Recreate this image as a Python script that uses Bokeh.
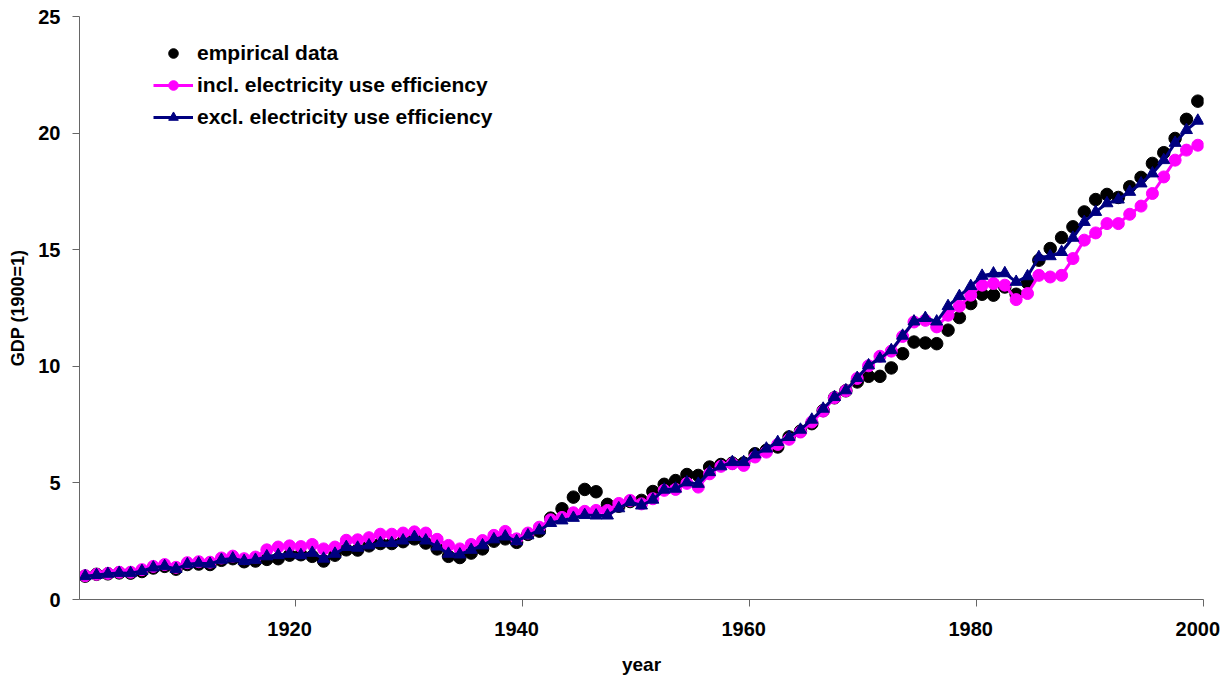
from bokeh.plotting import figure
from bokeh.models import (ColumnDataSource, FixedTicker, Legend, LegendItem, Range1d,
                          LinearAxis)
from bokeh.embed import file_html
from bokeh.resources import INLINE

years = list(range(1902, 2001))

empirical = [
    1.00, 1.08, 1.10, 1.14, 1.13, 1.20, 1.35, 1.42, 1.30, 1.50,
    1.52, 1.50, 1.68, 1.75, 1.62, 1.65, 1.72, 1.75, 1.90, 1.92,
    1.85, 1.65, 1.90, 2.13, 2.12, 2.30, 2.40, 2.40, 2.48, 2.60,
    2.42, 2.17, 1.85, 1.80, 1.99, 2.17, 2.50, 2.60, 2.45, 2.79,
    2.93, 3.49, 3.89, 4.39, 4.72, 4.62, 4.08, 4.00, 4.20, 4.25,
    4.63, 4.94, 5.10, 5.36, 5.32, 5.68, 5.79, 5.85, 5.85, 6.25,
    6.40, 6.54, 6.97, 7.22, 7.54, 8.10, 8.65, 8.95, 9.33, 9.57,
    9.57, 9.93, 10.54, 11.04, 11.00, 10.97, 11.55, 12.09, 12.69, 13.09,
    13.05, 13.40, 13.09, 13.58, 14.55, 15.05, 15.52, 15.98, 16.62, 17.15,
    17.37, 17.24, 17.70, 18.10, 18.70, 19.16, 19.77, 20.59, 21.37,
]

incl_eff = [
    1.02, 1.08, 1.12, 1.17, 1.17, 1.28, 1.42, 1.50, 1.38, 1.58,
    1.62, 1.60, 1.78, 1.86, 1.75, 1.82, 2.13, 2.25, 2.30, 2.27,
    2.36, 2.17, 2.25, 2.54, 2.56, 2.65, 2.80, 2.80, 2.85, 2.90,
    2.85, 2.58, 2.32, 2.17, 2.36, 2.53, 2.75, 2.92, 2.60, 2.85,
    3.10, 3.42, 3.52, 3.72, 3.78, 3.82, 3.82, 4.12, 4.25, 4.10,
    4.32, 4.68, 4.72, 4.98, 4.82, 5.39, 5.71, 5.82, 5.75, 6.11,
    6.32, 6.65, 6.87, 7.18, 7.61, 8.08, 8.65, 8.95, 9.48, 10.02,
    10.43, 10.65, 11.28, 11.90, 11.97, 11.69, 12.19, 12.58, 13.05, 13.48,
    13.55, 13.48, 12.86, 13.12, 13.90, 13.83, 13.90, 14.62, 15.41, 15.72,
    16.12, 16.12, 16.52, 16.87, 17.41, 18.12, 18.84, 19.27, 19.48,
]

excl_eff = [
    1.00, 1.05, 1.10, 1.14, 1.13, 1.22, 1.37, 1.43, 1.31, 1.51,
    1.55, 1.53, 1.70, 1.76, 1.65, 1.70, 1.85, 1.90, 1.96, 1.90,
    2.00, 1.75, 1.96, 2.25, 2.22, 2.32, 2.42, 2.42, 2.53, 2.68,
    2.53, 2.27, 1.96, 1.93, 2.13, 2.32, 2.58, 2.70, 2.50, 2.75,
    2.96, 3.28, 3.39, 3.50, 3.62, 3.60, 3.60, 3.91, 4.18, 4.03,
    4.28, 4.71, 4.75, 5.02, 4.96, 5.46, 5.71, 5.89, 5.89, 6.22,
    6.47, 6.75, 6.97, 7.28, 7.71, 8.18, 8.68, 8.97, 9.50, 10.04,
    10.33, 10.69, 11.31, 11.92, 12.07, 11.92, 12.58, 13.01, 13.44, 13.88,
    13.98, 13.99, 13.62, 13.86, 14.68, 14.72, 14.90, 15.51, 16.19, 16.62,
    16.99, 17.15, 17.48, 17.84, 18.27, 18.84, 19.58, 20.13, 20.53,
]

x_label_years = [1920, 1940, 1960, 1980, 2000]
y_ticks = [0, 5, 10, 15, 20, 25]
labels = ["empirical data", "incl. electricity use efficiency", "excl. electricity use efficiency"]

src = ColumnDataSource(dict(x=years, emp=empirical, inc=incl_eff, exc=excl_eff))

FONT = "Liberation Sans"
AXIS_COLOR = "#666666"

# category-style axis: tick marks sit between categories, labels on categories
x_start = years[0] - 0.5
x_end = years[-1] + 0.5

p = figure(width=1221, height=681, output_backend="svg", toolbar_location=None,
           x_range=Range1d(x_start, x_end), y_range=Range1d(0, 25),
           min_border_left=79, min_border_right=18, min_border_top=16, min_border_bottom=82)
p.outline_line_color = None
p.xgrid.visible = False
p.ygrid.visible = False

r_emp = p.scatter("x", "emp", source=src, marker="circle", size=12.5,
                  fill_color="black", line_color="black")
l_inc = p.line("x", "inc", source=src, line_color="#FF00FF", line_width=3)
r_inc = p.scatter("x", "inc", source=src, marker="circle", size=12,
                  fill_color="#FF00FF", line_color="#FF00FF")
l_exc = p.line("x", "exc", source=src, line_color="#000080", line_width=3)
r_exc = p.scatter("x", "exc", source=src, marker="triangle", size=12,
                  fill_color="#000080", line_color="#000080")

legend = Legend(items=[
    LegendItem(label=labels[0], renderers=[r_emp]),
    LegendItem(label=labels[1], renderers=[l_inc, r_inc]),
    LegendItem(label=labels[2], renderers=[l_exc, r_exc]),
], location=(74, 470))
legend.border_line_color = None
legend.background_fill_alpha = 0
legend.padding = 0
legend.margin = 0
legend.spacing = 8
legend.glyph_width = 40
legend.glyph_height = 24
legend.label_height = 24
legend.label_standoff = 4
legend.label_text_font = FONT
legend.label_text_font_style = "bold"
legend.label_text_font_size = "21px"
legend.label_text_color = "black"
p.add_layout(legend, "center")

# x axis: tick marks between categories, no labels
xa = p.xaxis[0]
xa.ticker = FixedTicker(ticks=[y + 0.5 for y in x_label_years])
xa.axis_line_color = AXIS_COLOR
xa.major_tick_line_color = AXIS_COLOR
xa.minor_tick_line_color = None
xa.major_tick_out = 7
xa.major_tick_in = 0
xa.major_label_standoff = 0
xa.major_label_overrides = {y + 0.5: "" for y in x_label_years}
xa.major_label_text_font_size = "1px"

# x labels axis: labels centred on categories
xl = LinearAxis(ticker=FixedTicker(ticks=x_label_years))
xl.axis_line_color = None
xl.major_tick_line_color = None
xl.minor_tick_line_color = None
xl.major_tick_out = 0
xl.major_tick_in = 0
xl.major_label_standoff = 15
xl.major_label_text_font = FONT
xl.major_label_text_font_style = "bold"
xl.major_label_text_font_size = "20px"
xl.major_label_text_color = "black"
xl.axis_label = "year"
xl.axis_label_standoff = 15
xl.axis_label_text_font = FONT
xl.axis_label_text_font_style = "bold"
xl.axis_label_text_font_size = "19px"
xl.axis_label_text_color = "black"
p.add_layout(xl, "below")

ya = p.yaxis[0]
ya.ticker = FixedTicker(ticks=y_ticks)
ya.axis_line_color = AXIS_COLOR
ya.major_tick_line_color = AXIS_COLOR
ya.minor_tick_line_color = None
ya.major_tick_out = 7
ya.major_tick_in = 0
ya.major_label_standoff = 12
ya.major_label_text_font = FONT
ya.major_label_text_font_style = "bold"
ya.major_label_text_font_size = "20px"
ya.major_label_text_color = "black"
ya.axis_label = "GDP (1900=1)"
ya.axis_label_standoff = 7
ya.axis_label_text_font = FONT
ya.axis_label_text_font_style = "bold"
ya.axis_label_text_font_size = "18px"
ya.axis_label_text_color = "black"

open("out.html", "w").write(file_html(p, INLINE))
